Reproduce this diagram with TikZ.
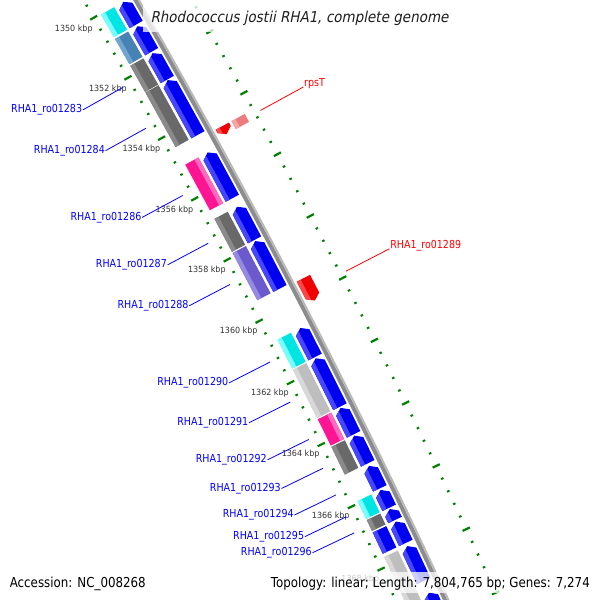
\documentclass[tikz,border=0pt]{standalone}
\usepackage{fontspec}
\setmainfont{DejaVu Sans}
\newfontfamily\lblfont[FakeStretch=0.865]{DejaVu Sans}
\newfontfamily\tickfont[FakeStretch=0.94]{DejaVu Sans}
\newfontfamily\ttlfont[FakeStretch=0.9,FakeSlant=0.2]{DejaVu Sans}

\definecolor{cdsblue}{RGB}{0,0,240}
\definecolor{cdsbluel}{RGB}{70,70,255}
\definecolor{cogcyan}{RGB}{0,228,228}
\definecolor{cogcyanl}{RGB}{120,255,255}
\definecolor{cogsteel}{RGB}{70,130,180}
\definecolor{cogsteell}{RGB}{112,165,208}
\definecolor{cogdim}{RGB}{105,105,105}
\definecolor{cogdiml}{RGB}{138,138,138}
\definecolor{cogpink}{RGB}{255,20,147}
\definecolor{cogpinkl}{RGB}{255,105,190}
\definecolor{cogslate}{RGB}{106,90,205}
\definecolor{cogslatel}{RGB}{148,138,226}
\definecolor{cogsilver}{RGB}{190,190,190}
\definecolor{cogsilverl}{RGB}{216,216,216}
\definecolor{cdsred}{RGB}{240,0,0}
\definecolor{cdsredl}{RGB}{255,70,70}
\definecolor{cogcoral}{RGB}{235,125,125}
\definecolor{cogcorall}{RGB}{248,165,165}
\definecolor{tickgreen}{RGB}{0,128,0}
\definecolor{bbdark}{RGB}{140,140,140}
\definecolor{bblight}{RGB}{185,185,185}
\definecolor{ticktext}{RGB}{51,51,51}
\definecolor{lblblue}{RGB}{0,0,255}
\definecolor{lblred}{RGB}{255,0,0}

\makeatletter
\pgfkeys{/gcs/.cd, k/.store in=\gcs@k, r/.store in=\gcs@r}
\tikzdeclarecoordinatesystem{g}{%
  \pgfkeys{/gcs/.cd,#1}%
  \pgfmathsetmacro\gcs@d{(\gcs@k)-1360}%
  \pgfmathsetmacro\gcs@q{(\gcs@r)/7462}%
  \pgfmathsetmacro\gcs@x{((\gcs@r)-7462)-0.080962*\gcs@q*\gcs@d*\gcs@d}%
  \pgfmathsetmacro\gcs@y{34.760*\gcs@q*\gcs@d}%
  \pgfpointxy{\gcs@x}{\gcs@y}%
}
\makeatother

% generic box: k1 k2 rc base light strip-lo strip-hi (offsets from inner edge)
\newcommand\genbox[7]{%
  \pgfmathsetmacro\gra{#3-7.5}\pgfmathsetmacro\grb{#3+7.5}%
  \pgfmathsetmacro\gsa{#3-7.5+#6}\pgfmathsetmacro\gsb{#3-7.5+#7}%
  \fill[#4] (g cs:k=#1,r=\gra) -- (g cs:k=#2,r=\gra) -- (g cs:k=#2,r=\grb) -- (g cs:k=#1,r=\grb) -- cycle;
  \fill[#5] (g cs:k=#1,r=\gsa) -- (g cs:k=#2,r=\gsa) -- (g cs:k=#2,r=\gsb) -- (g cs:k=#1,r=\gsb) -- cycle;}
\newcommand\cog[4]{\genbox{#1}{#2}{7431.5}{#3}{#4}{0}{4.5}}
\newcommand\cogo[4]{\genbox{#1}{#2}{7431.5}{#3}{#4}{10.5}{15}}
\newcommand\fcog[4]{\genbox{#1}{#2}{7493}{#3}{#4}{0}{4.5}}
\newcommand\revcds[2]{%
  \pgfmathsetmacro\gra{7449.5-7.5}\pgfmathsetmacro\grb{7449.5+7.5}\pgfmathsetmacro\grs{7449.5-3}%
  \pgfmathsetmacro\gkh{#1+0.15}\pgfmathsetmacro\gkx{#1+0.06}%
  \fill[cdsblue] (g cs:k=\gkh,r=\gra) -- (g cs:k=#1,r=7449.5) -- (g cs:k=\gkh,r=\grb) -- (g cs:k=#2,r=\grb) -- (g cs:k=#2,r=\gra) -- cycle;
  \fill[cdsbluel] (g cs:k=\gkh,r=\gra) -- (g cs:k=\gkx,r=\grs) -- (g cs:k=#2,r=\grs) -- (g cs:k=#2,r=\gra) -- cycle;}
\newcommand\fwdcds[2]{%
  \pgfmathsetmacro\gra{7475-7.5}\pgfmathsetmacro\grb{7475+7.5}\pgfmathsetmacro\grs{7475-3}%
  \pgfmathsetmacro\gkh{#2-0.15}\pgfmathsetmacro\gkx{#2-0.06}%
  \fill[cdsred] (g cs:k=#1,r=\gra) -- (g cs:k=\gkh,r=\gra) -- (g cs:k=#2,r=7475) -- (g cs:k=\gkh,r=\grb) -- (g cs:k=#1,r=\grb) -- cycle;
  \fill[cdsredl] (g cs:k=#1,r=\gra) -- (g cs:k=\gkh,r=\gra) -- (g cs:k=\gkx,r=\grs) -- (g cs:k=#1,r=\grs) -- cycle;}
\newcommand\ilabel[3]{%
  \coordinate (s#1) at (g cs:k=#2,r=7407);
  \node[ilbl,anchor=east] (n#1) at (g cs:k=#2,r=7361) {#3};
  \draw[iline] (s#1) -- (n#1.east);}
\newcommand\olabel[3]{%
  \coordinate (s#1) at (g cs:k=#2,r=7516);
  \node[olbl,anchor=base west] (n#1) at (g cs:k=#2,r=7565) {#3};
  \draw[oline] (s#1) -- (n#1.base west);}

\begin{document}
\begin{tikzpicture}[x=1pt,y=-1pt,
  majtick/.style={tickgreen,line width=2.2pt},
  mintick/.style={tickgreen,line width=2pt},
  ticklbl/.style={text=ticktext,font=\tickfont\fontsize{8.5}{10}\selectfont,inner sep=0pt},
  ilbl/.style={text=lblblue,font=\lblfont\fontsize{11}{13}\selectfont,inner sep=0.6pt},
  olbl/.style={text=lblred,font=\lblfont\fontsize{11}{13}\selectfont,inner sep=0.6pt},
  iline/.style={draw=lblblue,line width=0.8pt},
  oline/.style={draw=lblred,line width=0.8pt},
  fadebox/.style={fill=white,opacity=0.75},
  legend/.style={text=black,font=\lblfont\fontsize{13.7}{16}\selectfont,inner sep=0pt}]
\useasboundingbox (0,0) rectangle (600,600);
\fill[white] (0,0) rectangle (600,600);
\begin{scope}
\clip (0,0) rectangle (600,600);
\begin{scope}[shift={(300,300)},rotate=27.265]
  % ticks
  \foreach \m in {1348,1350,...,1370}{
    \draw[majtick] (g cs:k=\m,r=7412) -- (g cs:k=\m,r=7420);
    \draw[majtick] (g cs:k=\m,r=7506) -- (g cs:k=\m,r=7514);
    \foreach \j in {1,2,3,4}{
      \pgfmathsetmacro\mk{\m+0.4*\j}
      \draw[mintick] (g cs:k=\mk,r=7414.7) -- (g cs:k=\mk,r=7417.3);
      \draw[mintick] (g cs:k=\mk,r=7508.7) -- (g cs:k=\mk,r=7511.3);
    }
  }
  \foreach \m in {1350,1352,...,1368}{
    \node[ticklbl] (tk\m) at (g cs:k=\m,r=7393) {\m\ kbp};
  }
  % backbone
  \draw[bbdark,line width=4pt] (g cs:k=1348,r=7461) \foreach \kk in {1349,...,1372}{ -- (g cs:k=\kk,r=7461)};
  \draw[bblight,line width=2pt] (g cs:k=1348,r=7464) \foreach \kk in {1349,...,1372}{ -- (g cs:k=\kk,r=7464)};
  % features
  \cog{1350.03}{1350.78}{cogcyan}{cogcyanl} \revcds{1350.03}{1350.78}
  \cog{1350.84}{1351.68}{cogsteel}{cogsteell} \revcds{1350.84}{1351.68}
  \cog{1351.73}{1352.60}{cogdim}{cogdiml} \revcds{1351.73}{1352.60}
  \cog{1352.62}{1354.42}{cogdim}{cogdiml} \revcds{1352.62}{1354.42}
  \fcog{1354.54}{1354.80}{cogcoral}{cogcorall} \fwdcds{1354.54}{1354.80}
  \cogo{1355.00}{1356.50}{cogpink}{cogpinkl} \revcds{1355.00}{1356.50}
  \cog{1356.78}{1357.86}{cogdim}{cogdiml} \revcds{1356.78}{1357.86}
  \cog{1357.90}{1359.44}{cogslate}{cogslatel} \revcds{1357.90}{1359.44}
  \fwdcds{1359.49}{1360.21}
  \cog{1360.72}{1361.66}{cogcyan}{cogcyanl} \revcds{1360.72}{1361.66}
  \cog{1361.70}{1363.26}{cogsilver}{cogsilverl} \revcds{1361.70}{1363.26}
  \cogo{1363.30}{1364.15}{cogpink}{cogpinkl} \revcds{1363.30}{1364.15}
  \cog{1364.19}{1365.08}{cogdim}{cogdiml} \revcds{1364.19}{1365.08}
  \revcds{1365.16}{1365.88}
  \cog{1365.93}{1366.50}{cogcyan}{cogcyanl} \revcds{1365.93}{1366.50}
  \cog{1366.54}{1366.89}{cogdim}{cogdiml} \revcds{1366.54}{1366.89}
  \cog{1366.94}{1367.62}{cdsblue}{cdsbluel} \revcds{1366.94}{1367.62}
  \cog{1367.72}{1369.70}{cogsilver}{cogsilverl} \revcds{1367.72}{1368.83}
  \revcds{1369.20}{1371.00}
  % labels
  \ilabel{283}{1352.17}{RHA1\_ro01283}
  \ilabel{284}{1353.53}{RHA1\_ro01284}
  \olabel{285}{1354.67}{rpsT}
  \ilabel{286}{1355.75}{RHA1\_ro01286}
  \ilabel{287}{1357.32}{RHA1\_ro01287}
  \ilabel{288}{1358.67}{RHA1\_ro01288}
  \olabel{289}{1359.87}{RHA1\_ro01289}
  \ilabel{290}{1361.20}{RHA1\_ro01290}
  \ilabel{291}{1362.50}{RHA1\_ro01291}
  \ilabel{292}{1363.71}{RHA1\_ro01292}
  \ilabel{293}{1364.64}{RHA1\_ro01293}
  \ilabel{294}{1365.50}{RHA1\_ro01294}
  \ilabel{295}{1366.20}{RHA1\_ro01295}
  \ilabel{296}{1366.72}{RHA1\_ro01296}
\end{scope}
\end{scope}
% title and legend
\fill[fadebox] (143,3) rectangle (456,32);
\node[anchor=base,inner sep=0pt,text=black!88] (title) at (299.5,22.7)
  {\ttlfont\fontsize{15}{18}\selectfont Rhodococcus jostii RHA1, complete genome};
\fill[fadebox] (4,571.5) rectangle (150,593);
\fill[fadebox] (266,571.5) rectangle (596,593);
\node[legend,anchor=base west] (acc) at (9.6,587.5) {Accession: NC\_008268};
\node[legend,anchor=base east] (topo) at (590,587.5) {Topology: linear; Length: 7,804,765 bp; Genes: 7,274};
\end{tikzpicture}
\end{document}
